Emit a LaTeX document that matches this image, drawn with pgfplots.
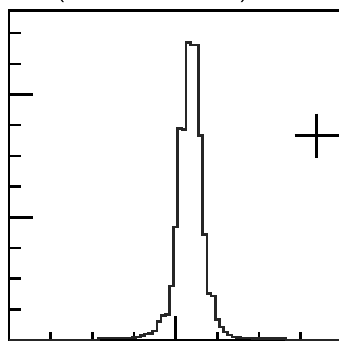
\documentclass[border=0pt]{standalone}
\usepackage{pgfplots}
\pgfplotsset{compat=1.18}
\usepackage{fontspec}
\setmainfont{Liberation Sans}
\begin{document}
\begin{tikzpicture}
\useasboundingbox (0,0) rectangle (339bp,-342bp);
\clip (0,0) rectangle (339bp,-342bp);
\begin{axis}[
  at={(9bp,-340bp)}, anchor=south west,
  scale only axis, width=333.4bp, height=329.5bp,
  xmin=-40, xmax=40, ymin=0, ymax=537,
  axis line style={line width=2.5bp, black},
  every tick/.append style={black, line width=2.5bp},
  tick align=inside,
  xtick={-40,0,40}, xticklabels={},
  extra x ticks={-30,-20,-10,10,20,30}, extra x tick labels={},
  extra x tick style={major tick length=8bp},
  ytick={0,200,400}, yticklabels={},
  minor ytick={50,100,150,250,300,350,450,500},
  major tick length=24bp, minor tick length=12bp,
  xtick pos=bottom, ytick pos=left,
]
\addplot[const plot, black!85, line width=2.6bp] coordinates {
(-40,0) (-18.5,3) (-10.5,4) (-9.5,5) (-8.5,7) (-7.5,10) (-6.5,11) (-5.5,15)
(-4.5,30) (-3.5,40) (-2.5,42) (-1.5,88) (-0.5,184) (0.5,345) (1.5,343)
(2.5,485) (3.5,481) (5.5,333) (6.5,172) (7.5,76) (8.5,72) (9.5,33)
(10.5,21) (11.5,13) (12.5,8) (13.5,5) (14.5,4) (15.5,3) (18.5,2) (26.5,0) (40,0)};
\addplot[only marks, mark=+, mark size=22bp, line width=3bp, black] coordinates {(33.8,333)};
\end{axis}
\node[anchor=south, inner sep=0, font=\fontsize{20}{24}\selectfont] at (61bp,-2.5bp) {(};
\node[anchor=south, inner sep=0, font=\fontsize{20}{24}\selectfont] at (244bp,-2.5bp) {)};
\end{tikzpicture}
\end{document}
